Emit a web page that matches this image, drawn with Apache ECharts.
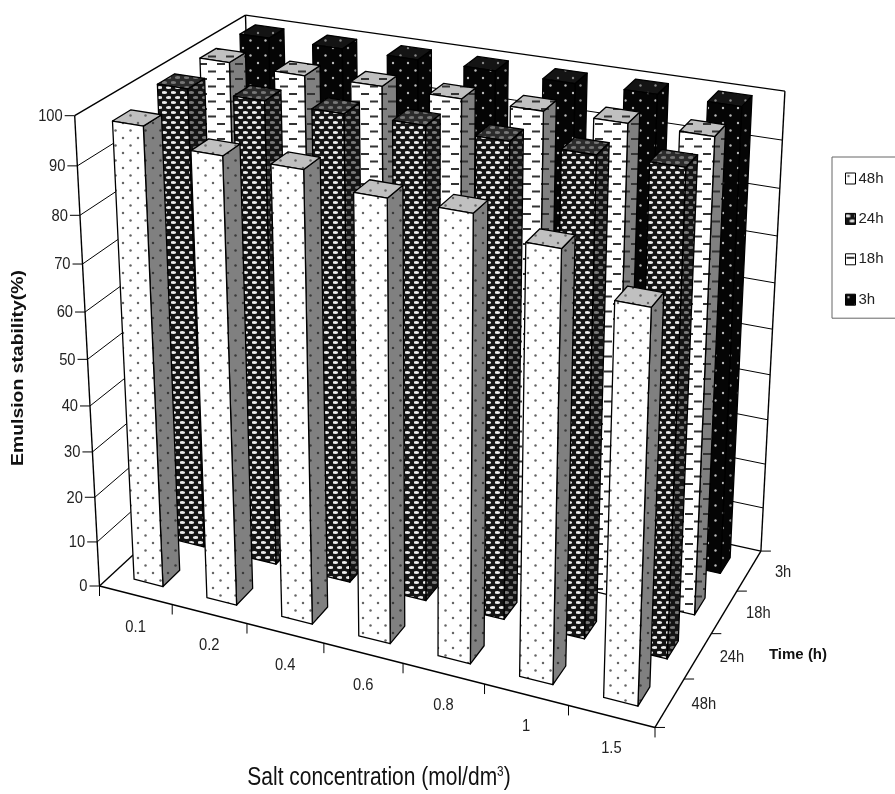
<!DOCTYPE html>
<html><head><meta charset="utf-8">
<style>html,body{margin:0;padding:0;background:#fff;overflow:hidden}#c{width:895px;height:794px}</style>
<script src="https://cdn.jsdelivr.net/npm/echarts@6/dist/echarts.min.js"></script>
</head><body><div id="c"></div>
<script>
const concentrations = ['0.1','0.2','0.4','0.6','0.8','1','1.5'];
const times = ['48h','24h','18h','3h'];
const yTicks = [0,10,20,30,40,50,60,70,80,90,100];
const v48 = [98,94.7,94.7,91.9,91.8,88,80];
const v24 = [99.9,99.9,99.8,100,99.5,99.5,99.8];
const v18 = [100,99.6,99.8,99.7,99.7,99.8,99.8];
const v3  = [100,100,100,100,99.8,100,100];
const seriesValues = {'48h':v48,'24h':v24,'18h':v18,'3h':v3};

// projection of the chart box (layout)
const O=[99.5,586], X=[655,727.5], D=[257,440], Z=[74.7,115.7];
const VX=[-5104,-739], VD=[1541,-748], VZ=[431,6872];
const A=(X[0]-O[0])/(VX[0]-X[0]), B=(D[0]-O[0])/(VD[0]-D[0]), C=(Z[1]-O[1])/(VZ[1]-Z[1]);
function proj(u,d,f){
  const w=1+A*u+B*d+C*f;
  return [(O[0]+A*u*VX[0]+B*d*VD[0]+C*f*VZ[0])/w,(O[1]+A*u*VX[1]+B*d*VD[1]+C*f*VZ[1])/w];
}
function tile(w,h,bg,draw){
  const c=document.createElement('canvas');c.width=w;c.height=h;
  const g=c.getContext('2d');g.fillStyle=bg;g.fillRect(0,0,w,h);draw(g);
  return {image:c,repeat:'repeat'};
}
function dots(bg,fg,r){return tile(15,15,bg,g=>{g.fillStyle=fg;[[3,3],[10.5,10.5]].forEach(p=>{g.beginPath();g.arc(p[0],p[1],r,0,7);g.fill();});});}
function dashes(bg,fg){return tile(18,15,bg,g=>{g.fillStyle=fg;g.fillRect(1,3,8,2);g.fillRect(10,10.5,8,2);});}
function ovals(bg,fg){return tile(9,10,bg,g=>{g.fillStyle=fg;[[2.25,2.5],[6.75,7.5]].forEach(p=>{g.beginPath();g.ellipse(p[0],p[1],2.9,1.5,0,0,7);g.fill();});});}
const faces={
 '48h':{front:dots('#ffffff','#666',1.25),side:dots('#808080','#3a3a3a',1.25),top:dots('#c0c0c0','#666',1.25)},
 '24h':{front:ovals('#141414','#ececec'),side:ovals('#141414','#7a7a7a'),top:ovals('#2a2a2a','#777')},
 '18h':{front:dashes('#ffffff','#333'),side:dashes('#808080','#333'),top:dashes('#c0c0c0','#333')},
 '3h':{front:dots('#050505','#bbb',1.2),side:dots('#050505','#888',1.2),top:dots('#141414','#888',1.2)}
};
const FONT='"Liberation Sans",Arial,sans-serif';
const LINE={stroke:'#000',lineWidth:1.2,fill:null};

function barRender(name){
  const dIdx=times.indexOf(name), f=faces[name];
  return function(params,api){
    const c=api.coord([api.value(0),api.value(1)]), band=api.size([1,0])[0];
    const gw=params.coordSys.width, gh=params.coordSys.height, gx=params.coordSys.x, gy=params.coordSys.y;
    const u0=(c[0]-0.2*band-gx)/gw, u1=(c[0]+0.2*band-gx)/gw, v=(gy+gh-c[1])/gh;
    const d0=(dIdx+0.3)/times.length, d1=(dIdx+0.7)/times.length;
    const flb=proj(u0,d0,0),frb=proj(u1,d0,0),brb=proj(u1,d1,0);
    const flt=proj(u0,d0,v),frt=proj(u1,d0,v),brt=proj(u1,d1,v),blt=proj(u0,d1,v);
    const st=(fill)=>({fill:fill,stroke:'#000',lineWidth:1.3,lineJoin:'round'});
    return {type:'group',children:[
      {type:'polygon',shape:{points:[frb,brb,brt,frt]},style:st(f.side)},
      {type:'polygon',shape:{points:[flt,frt,brt,blt]},style:st(f.top)},
      {type:'polygon',shape:{points:[flb,frb,frt,flt]},style:st(f.front)}
    ]};
  };
}
function seg(a,b,w){return {type:'line',shape:{x1:a[0],y1:a[1],x2:b[0],y2:b[1]},style:Object.assign({},LINE,{lineWidth:w||1.2})};}
function txt(x,y,s,o,sx){return {type:'text',x:x,y:y,scaleX:sx||0.92,style:Object.assign({text:s,font:'16px '+FONT,fill:'#222',align:'center',verticalAlign:'middle'},o||{})};}
function frameRender(params,api){
  const k=[];
  const n=concentrations.length,m=times.length;
  yTicks.forEach(t=>{
    const f=t/100,a=proj(0,0,f),b=proj(0,1,f),c=proj(1,1,f);
    if(t>0&&t<100){k.push(seg(a,b,1));k.push(seg(b,c,1));}
    k.push(seg([a[0]-10,a[1]],a,1));
    k.push(txt(a[0]-12,a[1]+1,String(t),{align:'right'}));
  });
  [[[0,0,0],[0,0,1]],[[0,0,1],[0,1,1]],[[0,1,1],[1,1,1]],[[1,1,1],[1,1,0]],[[0,1,1],[0,1,0]],
   [[0,0,0],[1,0,0]],[[1,0,0],[1,1,0]],[[1,1,0],[0,1,0]],[[0,1,0],[0,0,0]]].forEach(p=>{
     k.push(seg(proj(...p[0]),proj(...p[1]),1.4));
  });
  for(let i=0;i<=n;i++){const a=proj(i/n,0,0);k.push(seg(a,[a[0],a[1]+10],1));}
  for(let j=0;j<=m;j++){const a=proj(1,j/m,0);k.push(seg(a,[a[0]+10,a[1]],1));}
  concentrations.forEach((s,i)=>{const a=proj((i+.5)/n,0,0);k.push(txt(a[0],a[1]+32,s));});
  times.forEach((s,j)=>{const a=proj(1,(j+.5)/m,0);k.push(txt(a[0]+34,a[1]+2,s));});
  k.push({type:'text',x:18,y:368,rotation:Math.PI/2,scaleX:1.14,style:{text:'Emulsion stability(%)',font:'bold 17px '+FONT,fill:'#111',align:'center',verticalAlign:'middle'}});
  k.push(txt(798,655,'Time (h)',{font:'bold 15px '+FONT,fill:'#111'},1));
  k.push({type:'text',x:379,y:778,scaleX:0.84,style:{text:'{a|Salt concentration (mol/dm}{b|3}{a|)}',align:'center',verticalAlign:'middle',
    rich:{a:{font:'25px '+FONT,fill:'#111'},b:{font:'14px '+FONT,fill:'#111',verticalAlign:'top'}}}});
  return {type:'group',children:k};
}
const series=[{type:'custom',name:'frame',coordinateSystem:'cartesian2d',silent:true,z:1,clip:false,renderItem:frameRender,data:[[0,0]],encode:{x:0,y:1}}];
times.slice().reverse().forEach(name=>{
  series.push({type:'custom',name:name,coordinateSystem:'cartesian2d',silent:true,z:2,clip:false,renderItem:barRender(name),
    itemStyle:{color:faces[name].front,borderColor:'#000'},
    data:seriesValues[name].map((v,i)=>[i,v]),encode:{x:0,y:1}});
});
const chart=echarts.init(document.getElementById('c'),null,{renderer:'canvas'});
chart.setOption({
  animation:false,backgroundColor:'#fff',
  grid:{left:0,top:0,width:895,height:794,show:false},
  xAxis:{type:'category',data:concentrations,show:false},
  yAxis:{type:'value',min:0,max:100,show:false},
  legend:{orient:'vertical',left:832,top:157,padding:[14,20,11,13],itemWidth:10,itemHeight:11,itemGap:25.4,
    borderColor:'#666',borderWidth:1,
    textStyle:{fontFamily:'Liberation Sans',fontSize:15,color:'#222',padding:[0,0,0,-2]},
    data:times.map(t=>({name:t,icon:'rect',itemStyle:{color:faces[t].front,borderColor:'#000',borderWidth:1}}))},
  series:series
});
</script></body></html>
